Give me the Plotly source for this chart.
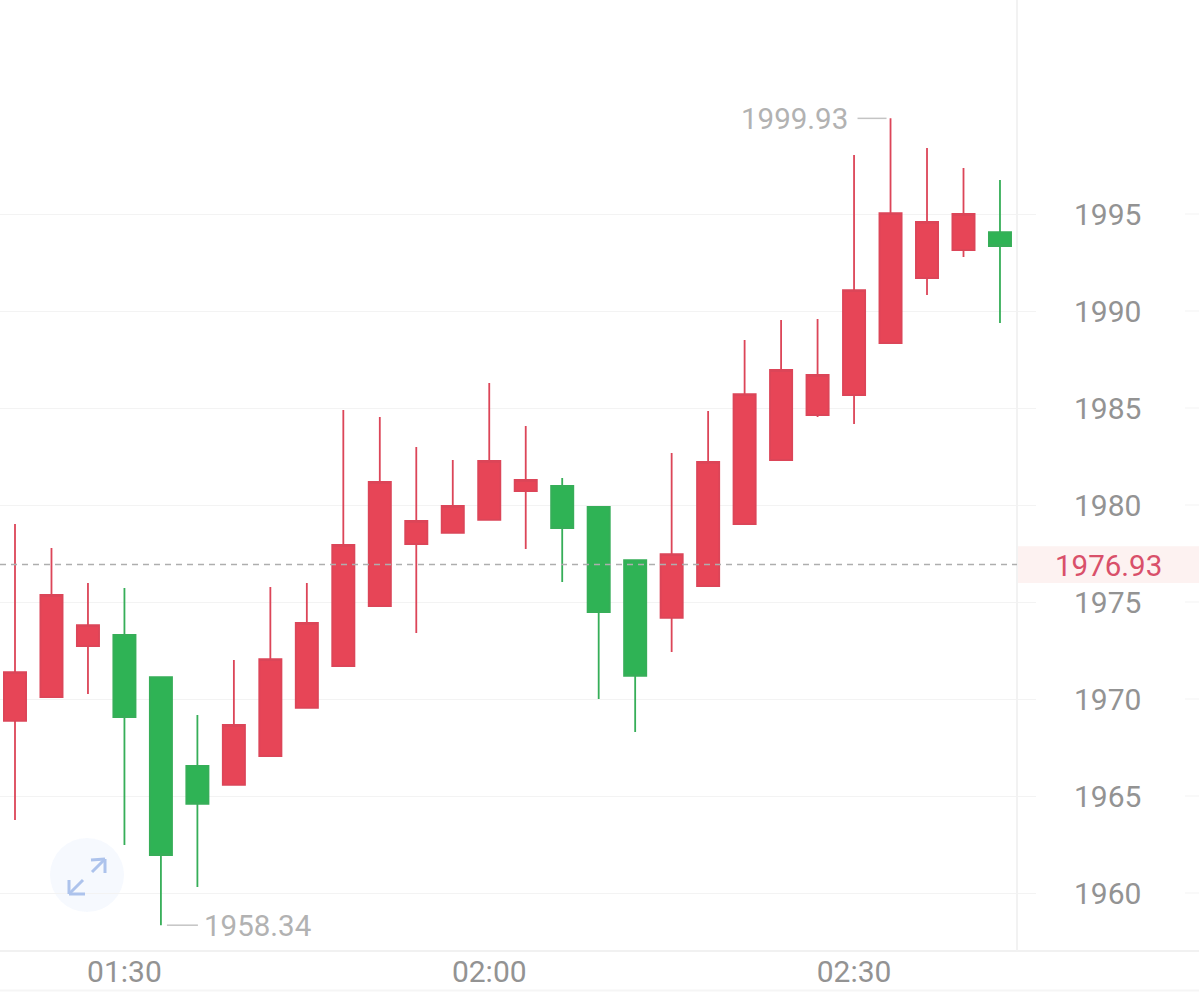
import pandas as pd
import plotly.graph_objects as go

times = pd.date_range("2024-01-01 01:21", periods=28, freq="3min").strftime("%Y-%m-%d %H:%M").tolist()
opens = [1968.87, 1970.10, 1972.73, 1973.30, 1971.13, 1966.55, 1965.57, 1967.06, 1969.54, 1971.70,
         1974.79, 1977.99, 1978.56, 1979.23, 1980.72, 1980.98, 1979.90, 1977.16, 1974.18, 1975.82,
         1979.02, 1982.32, 1984.64, 1985.67, 1988.35, 1991.70, 1993.14, 1994.07]
closes = [1971.39, 1975.36, 1973.81, 1969.07, 1961.96, 1964.59, 1968.66, 1972.06, 1973.92, 1977.94,
          1981.19, 1979.18, 1979.95, 1982.27, 1981.29, 1978.81, 1974.48, 1971.19, 1977.47, 1982.22,
          1985.72, 1986.96, 1986.70, 1991.08, 1995.05, 1994.59, 1995.00, 1993.35]
highs = [1979.02, 1977.78, 1975.98, 1975.72, 1971.13, 1969.18, 1972.01, 1975.77, 1975.98, 1984.90,
         1984.54, 1982.99, 1982.32, 1986.29, 1984.07, 1981.39, 1979.90, 1977.16, 1982.68, 1984.85,
         1988.51, 1989.54, 1989.59, 1998.04, 1999.93, 1998.40, 1997.37, 1996.75]
lows = [1963.76, 1970.10, 1970.26, 1962.47, 1958.34, 1960.31, 1965.57, 1967.06, 1969.54, 1971.70,
        1974.79, 1973.40, 1978.56, 1979.23, 1977.73, 1976.03, 1970.00, 1968.30, 1972.42, 1975.82,
        1979.02, 1982.32, 1984.54, 1984.18, 1988.35, 1990.82, 1992.78, 1989.38]
y_ticks = [1960, 1965, 1970, 1975, 1980, 1985, 1990, 1995]
x_ticks = ["2024-01-01 01:30", "2024-01-01 02:00", "2024-01-01 02:30"]
x_tick_labels = ["01:30", "02:00", "02:30"]
last_price = 1976.93
max_price = 1999.93
min_price = 1958.34
max_time = times[24]
min_time = times[4]

W, H = 1199, 992
RED, GREEN = "#e74557", "#2fb355"
RED_LINE, GREEN_LINE = "#dc4558", "#36ae58"
GRID = "#f3f3f3"
FONT = "Roboto"
AXIS_TEXT = "#939393"


def px(x):
    return x / W


def py(y):
    return 1 - y / H


def paper_line(x0, y0, x1, y1, color, width=2):
    return dict(type="line", xref="paper", yref="paper", x0=px(x0), y0=py(y0), x1=px(x1), y1=py(y1),
                line=dict(color=color, width=width))


fig = go.Figure(go.Candlestick(
    x=times, open=opens, high=highs, low=lows, close=closes,
    increasing=dict(line=dict(color=RED_LINE, width=1.8), fillcolor=RED),
    decreasing=dict(line=dict(color=GREEN_LINE, width=1.8), fillcolor=GREEN),
    whiskerwidth=0, showlegend=False,
))

shapes = []
# expand button (under the grid)
shapes.append(dict(type="circle", xref="paper", yref="paper", x0=px(50), x1=px(124), y0=py(838), y1=py(912),
                   fillcolor="rgba(232,240,253,0.38)", line=dict(width=0), layer="below"))
# right-hand grid stubs
for t in y_ticks:
    shapes.append(dict(type="line", xref="paper", yref="y", x0=px(1185), x1=1, y0=t, y1=t,
                       line=dict(color=GRID, width=1)))
# frame lines
shapes.append(paper_line(0, 951, W, 951, "#f1f1f1"))
shapes.append(paper_line(0, 990.5, W, 990.5, "#f5f5f5"))
shapes.append(paper_line(1017, 0, 1017, 951, "#f2f2f2"))
# last price
shapes.append(dict(type="line", xref="paper", yref="y", x0=0, x1=px(1017), y0=last_price, y1=last_price,
                   line=dict(color="#aeaeae", width=1.5, dash="6px,5px")))
shapes.append(dict(type="rect", xref="paper", yref="y", x0=px(1018), x1=1,
                   y0=last_price - 0.95, y1=last_price + 0.95,
                   fillcolor="#fdf2f1", line=dict(width=0), layer="below"))
# leader lines
shapes.append(dict(type="line", xref="x", yref="y", xsizemode="pixel", xanchor=max_time,
                   x0=-33, x1=-4, y0=max_price, y1=max_price, line=dict(color="#c4c4c4", width=1.5)))
shapes.append(dict(type="line", xref="x", yref="y", xsizemode="pixel", xanchor=min_time,
                   x0=6, x1=37, y0=min_price, y1=min_price, line=dict(color="#c4c4c4", width=1.5)))
ICON = "#adc3ec"
shapes += [
    paper_line(91, 860, 105, 859, ICON, 3), paper_line(105, 859, 105, 873, ICON, 3), paper_line(105, 859, 92, 872, ICON, 3),
    paper_line(69, 880, 69, 894, ICON, 3), paper_line(69, 894, 85, 894, ICON, 3), paper_line(69, 894, 83, 880, ICON, 3),
]

annotations = [
    dict(x=max_time, y=max_price, xref="x", yref="y", text=f"{max_price:.2f}", showarrow=False,
         xanchor="right", xshift=-41, yshift=-1, font=dict(family=FONT, size=29.5, color="#b2b2b2")),
    dict(x=min_time, y=min_price, xref="x", yref="y", text=f"{min_price:.2f}", showarrow=False,
         xanchor="left", xshift=41, yshift=-1, font=dict(family=FONT, size=29.5, color="#b2b2b2")),
    dict(x=px(1108), y=last_price, xref="paper", yref="y", text=f"{last_price:.2f}", showarrow=False,
         xanchor="center", yshift=-1, font=dict(family=FONT, size=29.5, color="#d9506a")),
]

fig.update_layout(
    width=W, height=H, autosize=False,
    margin=dict(l=0, r=0, t=0, b=0),
    paper_bgcolor="white", plot_bgcolor="white",
    boxgap=0.392, boxgroupgap=0,
    showlegend=False,
    shapes=shapes, annotations=annotations,
    xaxis=dict(
        domain=[0, 1017 / W],
        range=["2024-01-01 01:19:46", "2024-01-01 02:43:24"],
        type="date", rangeslider=dict(visible=False),
        tickmode="array", tickvals=x_ticks, ticktext=x_tick_labels,
        showgrid=False, zeroline=False, showline=False, ticks="",
        ticklabelstandoff=0,
        tickfont=dict(family=FONT, size=30, color=AXIS_TEXT),
    ),
    yaxis=dict(
        domain=[1 - 951 / H, 1],
        range=[1995 - (951 - 214) / 19.4, 1995 + 214 / 19.4],
        side="right",
        tickmode="array", tickvals=y_ticks, ticktext=[str(t) for t in y_ticks],
        showgrid=True, gridcolor=GRID, gridwidth=1, zeroline=False, showline=False,
        ticks="outside", ticklen=18, tickcolor=GRID, tickwidth=1,
        ticklabelstandoff=32,
        tickfont=dict(family=FONT, size=30, color=AXIS_TEXT),
    ),
)

fig.write_html("out.html", config={"displayModeBar": False},
               post_script="document.body.style.margin='0';document.documentElement.style.overflow='hidden';")
